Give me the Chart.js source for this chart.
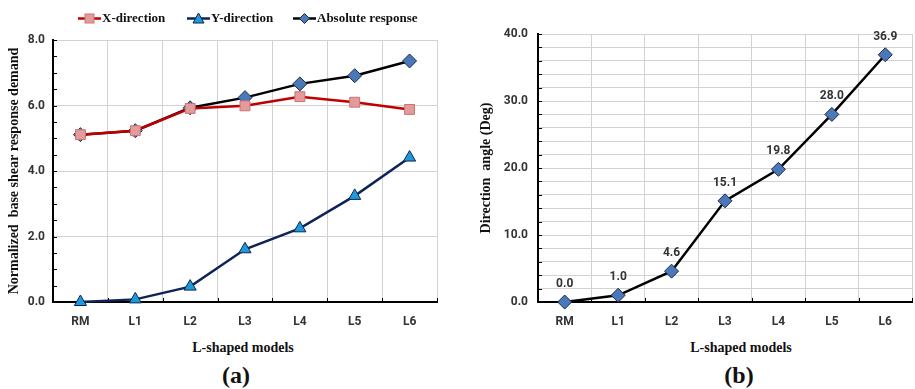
<!DOCTYPE html>
<html lang="en">
<head>
<meta charset="UTF-8">
<title>L-shaped models: base shear demand and direction angle</title>
<script src="https://cdn.jsdelivr.net/npm/chart.js"></script>
<style>
  body {
    margin: 0;
    width: 915px;
    height: 389px;
    overflow: hidden;
    background: #fff;
    position: relative;
    font-family: "Liberation Serif", serif;
    color: #111;
  }
  canvas { position: absolute; top: 0; }
  #chartA { left: 0; }
  #chartB { left: 470px; }
  .legend-item {
    position: absolute;
    top: 10px;
    font: bold 13px "Liberation Serif", serif;
    white-space: nowrap;
    display: flex;
    align-items: center;
  }
  .legend-item svg { margin-right: 1px; }
  .xtitle {
    position: absolute;
    top: 340px;
    font: bold 14px "Liberation Serif", serif;
    transform: translateX(-50%);
    white-space: nowrap;
  }
  .panel {
    position: absolute;
    top: 362px;
    font: bold 24px "Liberation Serif", serif;
    transform: translateX(-50%);
  }
</style>
</head>
<body>
<canvas id="chartA" width="445" height="330"></canvas>
<canvas id="chartB" width="450" height="330"></canvas>
<div id="legend"></div>
<div class="xtitle" style="left:243px">L-shaped models</div>
<div class="xtitle" style="left:741px">L-shaped models</div>
<div class="panel" style="left:236px">(a)</div>
<div class="panel" style="left:739px">(b)</div>

<script>
// data
const models = ['RM', 'L1', 'L2', 'L3', 'L4', 'L5', 'L6'];
const xDirection = [5.11, 5.23, 5.91, 5.99, 6.27, 6.10, 5.88];
const yDirection = [0.0, 0.08, 0.47, 1.61, 2.25, 3.24, 4.41];
const absoluteResponse = [5.11, 5.23, 5.93, 6.24, 6.66, 6.91, 7.36];
const directionAngle = [0.0, 1.0, 4.6, 15.1, 19.8, 28.0, 36.9];

const tickFont = { family: 'Roboto', weight: 'bold', size: 12 };
const titleFont = { family: 'Liberation Serif', weight: 'bold', size: 14 };

// small tick marks drawn on the inside of the axes
const innerTicks = {
  id: 'innerTicks',
  beforeDatasetsDraw(chart) {
    const { ctx, chartArea, scales } = chart;
    ctx.save();
    ctx.strokeStyle = '#000';
    ctx.lineWidth = 1;
    ctx.beginPath();
    scales.y.ticks.forEach((t, i) => {
      const y = Math.round(scales.y.getPixelForTick(i)) + 0.5;
      ctx.moveTo(chartArea.left, y);
      ctx.lineTo(chartArea.left + 4, y);
    });
    for (let i = 0; i <= models.length; i++) {
      const x = Math.round(scales.x.getPixelForValue(i - 0.5)) + 0.5;
      ctx.moveTo(x, chartArea.bottom);
      ctx.lineTo(x, chartArea.bottom - 4);
    }
    ctx.stroke();
    ctx.restore();
  }
};

// values printed above the points of chart (b)
const pointLabels = {
  id: 'pointLabels',
  afterDatasetsDraw(chart) {
    const { ctx } = chart;
    const meta = chart.getDatasetMeta(0);
    ctx.save();
    ctx.font = 'bold 12px Roboto';
    ctx.fillStyle = '#333';
    ctx.textAlign = 'center';
    ctx.textBaseline = 'middle';
    meta.data.forEach((pt, i) => {
      ctx.fillText(directionAngle[i].toFixed(1), pt.x, pt.y - 18);
    });
    ctx.restore();
  }
};

function gridColor(ctx) {
  if (!ctx.tick) return 'transparent';
  return ctx.tick.value % 2 === 0 || ctx.tick.value % 10 === 0 ? '#d2d2d2' : 'transparent';
}

function xScale() {
  return {
    type: 'category',
    offset: true,
    grid: { offset: true, color: '#d2d2d2', drawTicks: false },
    border: { color: '#000', width: 2 },
    ticks: { font: tickFont, color: '#333', padding: 13, autoSkip: false, maxRotation: 0 },
    afterFit(s) { s.height = 28; }
  };
}

const chartA = new Chart(document.getElementById('chartA'), {
  type: 'line',
  data: {
    labels: models,
    datasets: [
      {
        label: 'X-direction',
        data: xDirection,
        borderColor: '#c00000',
        borderWidth: 2.5,
        pointStyle: 'rect',
        pointRadius: 7,
        pointBackgroundColor: '#e49b9b',
        pointBorderColor: '#c87474',
        pointBorderWidth: 1,
        clip: false
      },
      {
        label: 'Y-direction',
        data: yDirection,
        borderColor: '#0e2456',
        borderWidth: 2.5,
        pointStyle: 'triangle',
        pointRadius: 7,
        pointBackgroundColor: '#1f9ad8',
        pointBorderColor: '#0e2456',
        pointBorderWidth: 1,
        clip: false
      },
      {
        label: 'Absolute response',
        data: absoluteResponse,
        borderColor: '#000',
        borderWidth: 2.5,
        pointStyle: 'rectRot',
        pointRadius: 7,
        pointBackgroundColor: '#4a78b8',
        pointBorderColor: '#1b2a48',
        pointBorderWidth: 1,
        clip: false
      }
    ]
  },
  options: {
    responsive: false,
    animation: false,
    layout: { padding: { top: 40, right: 7, left: 0, bottom: 0 } },
    plugins: { legend: { display: false }, tooltip: { enabled: false } },
    scales: {
      x: xScale(),
      y: {
        min: 0,
        max: 8,
        ticks: {
          stepSize: 0.5,
          autoSkip: false,
          font: tickFont,
          color: '#333',
          padding: 8,
          callback: v => (v % 2 === 0 ? v.toFixed(1) : '')
        },
        grid: { color: gridColor, drawTicks: false },
        border: { color: '#000', width: 2 },
        title: {
          display: true,
          text: 'Normalized  base shear response demand',
          font: titleFont,
          color: '#111',
          padding: { top: 6, bottom: 0 }
        },
        afterFit(s) { s.width = 53; }
      }
    }
  },
  plugins: [innerTicks]
});

new Chart(document.getElementById('chartB'), {
  type: 'line',
  data: {
    labels: models,
    datasets: [{
      label: 'Direction angle',
      data: directionAngle,
      borderColor: '#000',
      borderWidth: 2.5,
      pointStyle: 'rectRot',
      pointRadius: 7,
      pointBackgroundColor: '#4a78b8',
      pointBorderColor: '#1b2a48',
      pointBorderWidth: 1,
      clip: false
    }]
  },
  options: {
    responsive: false,
    animation: false,
    layout: { padding: { top: 34, right: 4, left: 0, bottom: 0 } },
    plugins: { legend: { display: false }, tooltip: { enabled: false } },
    scales: {
      x: xScale(),
      y: {
        min: 0,
        max: 40,
        ticks: {
          stepSize: 2,
          autoSkip: false,
          font: tickFont,
          color: '#333',
          padding: 10,
          callback: v => (v % 10 === 0 ? v.toFixed(1) : '')
        },
        grid: { color: gridColor, drawTicks: false },
        border: { color: '#000', width: 2 },
        title: {
          display: true,
          text: 'Direction  angle (Deg)',
          font: titleFont,
          color: '#111',
          padding: { top: 8, bottom: 0 }
        },
        afterFit(s) { s.width = 68; }
      }
    }
  },
  plugins: [innerTicks, pointLabels]
});

// legend for chart (a), built from its datasets
const legendLeft = [78, 187, 293];
const shapes = {
  rect: (f, s) => `<rect x="7" y="2" width="9" height="9" fill="${f}" stroke="${s}"/>`,
  triangle: (f, s) => `<polygon points="11.5,1 17,11 6,11" fill="${f}" stroke="${s}"/>`,
  rectRot: (f, s) => `<polygon points="11.5,1.5 16.5,6.5 11.5,11.5 6.5,6.5" fill="${f}" stroke="${s}"/>`
};
const legend = document.getElementById('legend');
chartA.data.datasets.forEach((ds, i) => {
  const item = document.createElement('div');
  item.className = 'legend-item';
  item.style.left = legendLeft[i] + 'px';
  item.innerHTML =
    `<svg width="23" height="13"><line x1="0" y1="6.5" x2="23" y2="6.5" stroke="${ds.borderColor}" stroke-width="2.5"/>` +
    shapes[ds.pointStyle](ds.pointBackgroundColor, ds.pointBorderColor) +
    `</svg>${ds.label}`;
  legend.appendChild(item);
});
</script>
</body>
</html>
